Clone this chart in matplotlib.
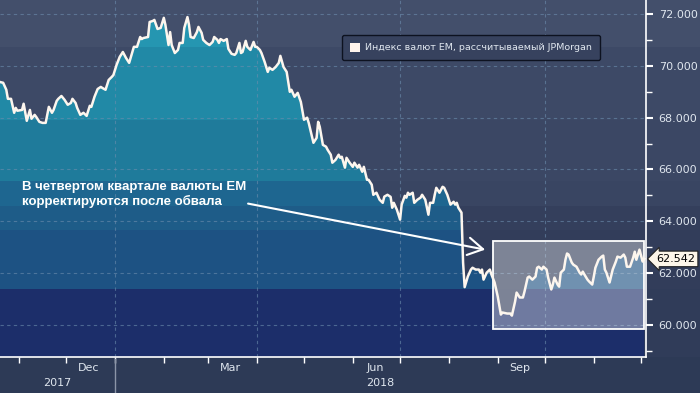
import datetime as dt

import matplotlib
matplotlib.use('Agg')
import matplotlib.pyplot as plt
import matplotlib.dates as mdates
import matplotlib.transforms as mtransforms
from matplotlib.patches import Polygon, Rectangle, Patch
from matplotlib.ticker import MultipleLocator, FuncFormatter

# --- data ------------------------------------------------------------------
START = dt.date(2017, 10, 20)

# days after START
day_offsets = [
    0, 2, 4, 5, 7, 9, 10, 11, 14, 15, 17, 19, 20, 22, 23, 25, 27, 29, 31, 33,
    34, 36, 37, 39, 41, 43, 45, 46, 48, 49, 51, 53, 55, 57, 58, 60, 62, 64, 65, 67,
    69, 71, 72, 74, 76, 78, 80, 82, 84, 85, 87, 89, 90, 91, 94, 95, 97, 98, 100, 102,
    104, 105, 107, 108, 109, 111, 113, 114, 116, 117, 119, 120, 121, 123, 125, 126, 128, 129, 131, 133,
    135, 136, 138, 139, 140, 142, 144, 145, 147, 149, 150, 152, 153, 154, 156, 157, 159, 161, 162, 163,
    165, 166, 168, 170, 171, 173, 175, 177, 178, 180, 182, 184, 185, 187, 189, 191, 193, 195, 196, 199,
    201, 202, 203, 205, 207, 208, 210, 211, 213, 215, 216, 217, 219, 220, 222, 224, 225, 227, 228, 230,
    231, 233, 234, 236, 237, 239, 241, 243, 244, 246, 248, 249, 250, 252, 254, 255, 257, 258, 259, 260,
    262, 263, 265, 267, 268, 270, 272, 273, 275, 276, 277, 279, 281, 282, 284, 285, 286, 288, 289, 290,
    291, 293, 294, 295, 297, 299, 300, 302, 304, 305, 306, 307, 309, 311, 312, 314, 316, 318, 319, 322,
    324, 325, 327, 328, 330, 332, 333, 335, 336, 338, 340, 341, 342, 344, 345, 347, 348, 350, 351, 352,
    354, 355, 356, 358, 359, 360, 361, 363, 364, 366, 368, 369, 370, 371, 373, 374, 376, 377, 378, 380,
    382, 383, 384, 385, 387, 389, 391, 392, 394, 396, 397, 398, 400, 402, 403, 404, 406, 408, 409,
]

index_values = [
    69.38, 69.35, 69.08, 68.73, 68.73, 68.19, 68.38, 68.27, 68.30, 68.54, 67.88, 68.30, 67.96, 68.11, 68.03, 67.84, 67.80, 67.80, 68.42, 68.19,
    68.30, 68.65, 68.73, 68.84, 68.69, 68.50, 68.57, 68.73, 68.57, 68.38, 68.11, 68.19, 68.07, 68.46, 68.42, 68.81, 69.11, 69.19, 69.15, 69.08,
    69.46, 69.58, 69.65, 70.04, 70.35, 70.54, 70.31, 70.12, 70.54, 70.74, 70.74, 71.12, 71.04, 71.08, 71.12, 71.70, 71.74, 71.78, 71.43, 71.47,
    71.86, 71.59, 70.81, 71.31, 70.81, 70.50, 70.62, 70.89, 70.89, 71.47, 71.89, 71.59, 71.12, 71.08, 71.31, 71.51, 71.28, 71.01, 70.89, 70.81,
    70.93, 71.12, 71.01, 70.89, 71.04, 70.97, 71.04, 70.66, 70.47, 70.43, 70.50, 70.89, 70.50, 70.54, 70.97, 70.74, 70.62, 70.93, 70.74, 70.74,
    70.62, 70.50, 70.16, 69.77, 69.93, 69.85, 69.96, 70.12, 70.39, 69.96, 69.77, 69.00, 69.08, 68.81, 68.96, 68.61, 67.92, 68.00, 67.80, 67.03,
    67.22, 67.84, 67.65, 66.95, 66.88, 66.76, 66.57, 66.26, 66.37, 66.57, 66.45, 66.49, 66.07, 66.45, 66.26, 66.10, 66.26, 66.07, 66.18, 65.91,
    66.10, 65.60, 65.60, 65.41, 65.02, 65.10, 64.83, 64.71, 64.95, 65.02, 64.94, 64.52, 64.71, 64.44, 64.06, 64.64, 64.98, 64.91, 65.10, 65.02,
    65.10, 64.71, 64.83, 64.91, 65.02, 64.83, 64.25, 64.71, 64.71, 65.02, 65.29, 65.10, 65.33, 65.29, 65.02, 64.83, 64.64, 64.75, 64.64, 64.71,
    64.52, 64.33, 62.40, 61.45, 61.86, 62.13, 62.20, 62.13, 62.13, 62.01, 62.13, 61.74, 62.01, 62.13, 61.94, 61.63, 61.09, 60.39, 60.47, 60.43,
    60.43, 60.35, 60.89, 61.24, 61.05, 61.05, 61.28, 61.82, 61.86, 61.74, 61.86, 62.20, 62.24, 62.13, 62.24, 62.13, 61.82, 61.36, 61.55, 61.82,
    61.55, 61.47, 62.01, 62.13, 62.51, 62.75, 62.71, 62.40, 62.32, 62.24, 62.01, 61.94, 62.05, 61.94, 61.74, 61.67, 61.55, 61.86, 62.20, 62.51,
    62.63, 62.67, 62.13, 62.01, 61.63, 62.13, 62.44, 62.63, 62.59, 62.71, 62.59, 62.24, 62.24, 62.59, 62.82, 62.51, 62.90, 62.44, 62.542,
]

last_value = 62.542
series_label = 'Индекс валют EM, рассчитываемый JPMorgan'
note_text = 'В четвертом квартале валюты EM\nкорректируются после обвала'
month_names = {12: 'Dec', 3: 'Mar', 6: 'Jun', 9: 'Sep'}
year_names = ['2017', '2018']
quarter_starts = [dt.date(2018, 1, 1), dt.date(2018, 4, 1),
                  dt.date(2018, 7, 1), dt.date(2018, 10, 1)]

# highlighted Q4 window
box_start, box_end = dt.date(2018, 8, 29), dt.date(2018, 12, 3)
box_low, box_high = 59.85, 63.25

# arrow from the note to the window (day offset, value)
arrow_from = (157.5, 64.68)
arrow_to = (308, 62.9)

# --- style ------------------------------------------------------------------
Y_MIN, Y_MAX = 58.75, 72.55
# band edges in axes fraction (top to bottom) and their colours
band_edges = [1.0, 0.868, 0.664, 0.494, 0.423, 0.356, 0.190, 0.0]
slate = ['#434f6b', '#3d4966', '#3b4764', '#394562', '#343f5c', '#323d5a', '#303c59']
teal = ['#2596b1', '#2189a6', '#1f7b9b', '#1e6690', '#1e5c88', '#1d5283', '#1c2e6a']
LABEL_C = '#dfe6ee'
GRID_C = '#6d8eae'

dates = [START + dt.timedelta(days=d) for d in day_offsets]
x = mdates.date2num(dates)

fig = plt.figure(figsize=(7, 3.93), dpi=100)
fig.patch.set_facecolor('#2d3a56')
ax = fig.add_axes([0, 0.0916, 0.923, 0.9084])
ax.set_facecolor('none')

# banded background over the whole width of the figure
band_tr = mtransforms.blended_transform_factory(fig.transFigure, ax.transAxes)
for top, bot, c in zip(band_edges[:-1], band_edges[1:], slate):
    fig.add_artist(Rectangle((0, bot), 1, top - bot, transform=band_tr,
                             facecolor=c, edgecolor='none', zorder=-10))

x_left = mdates.date2num(START)
x_right = x_left + 410.2
ax.set_xlim(x_left, x_right)
ax.set_ylim(Y_MIN, Y_MAX)

# area under the line, coloured in horizontal bands
area = Polygon([(x[0], Y_MIN)] + list(zip(x, index_values)) + [(x[-1], Y_MIN)],
               closed=True, facecolor='none', edgecolor='none')
ax.add_patch(area)
for top, bot, c in zip(band_edges[:-1], band_edges[1:], teal):
    r = Rectangle((0, bot), 1, top - bot, transform=ax.transAxes,
                  facecolor=c, edgecolor='none', zorder=1)
    ax.add_patch(r)
    r.set_clip_path(area)

# grid
for yv in range(60, 73, 2):
    ax.axhline(yv, color=GRID_C, lw=0.8, ls=(0, (3, 3)), alpha=0.6, zorder=2)
for q in quarter_starts:
    ax.axvline(mdates.date2num(q), color=GRID_C, lw=0.8, ls=(0, (3, 3)),
               alpha=0.6, zorder=2)

# highlight box
bx0, bx1 = mdates.date2num(box_start), mdates.date2num(box_end)
ax.add_patch(Rectangle((bx0, box_low), bx1 - bx0, box_high - box_low,
                       facecolor='white', alpha=0.37, edgecolor='none', zorder=3))
ax.add_patch(Rectangle((bx0, box_low), bx1 - bx0, box_high - box_low,
                       facecolor='none', edgecolor='white', lw=1.3, zorder=3))

ax.plot(x, index_values, color='#fdf6ee', lw=1.8, zorder=4,
        solid_joinstyle='round')

# note and arrow
ax.text(0.034, 0.494, note_text, transform=ax.transAxes, ha='left', va='top',
        color='white', fontsize=9.5, fontweight='bold',
        family=['Liberation Sans', 'DejaVu Sans'], linespacing=1.2, zorder=5)
ax.annotate('', xy=(x_left + arrow_to[0], arrow_to[1]),
            xytext=(x_left + arrow_from[0], arrow_from[1]),
            arrowprops=dict(arrowstyle='->,head_length=0.6,head_width=0.35',
                            color='white', lw=1.5, mutation_scale=18,
                            shrinkA=0, shrinkB=0), zorder=5)

# legend
handle = Patch(facecolor='#fff4ec', edgecolor='none', label=series_label)
leg = ax.legend(handles=[handle], loc='upper left',
                bbox_to_anchor=(342 / 700, 1 - 35 / 393),
                bbox_transform=fig.transFigure, borderaxespad=0,
                fontsize=6.8, frameon=True, fancybox=True,
                handlelength=1.15, handleheight=1.15, handletextpad=0.5,
                borderpad=0.8)
leg.get_frame().set_facecolor('#37425e')
leg.get_frame().set_edgecolor('#0d1220')
leg.get_frame().set_alpha(1)
for t in leg.get_texts():
    t.set_color(LABEL_C)

# spines
for s in ['top', 'left']:
    ax.spines[s].set_visible(False)
for s in ['right', 'bottom']:
    ax.spines[s].set_color('white')
    ax.spines[s].set_linewidth(1.2)
    ax.spines[s].set_zorder(6)

# y axis on the right
ax.yaxis.tick_right()
ax.yaxis.set_major_locator(MultipleLocator(2))
ax.yaxis.set_minor_locator(MultipleLocator(1))
ax.yaxis.set_major_formatter(FuncFormatter(lambda v, p: f'{v:.3f}'))
ax.tick_params(axis='y', which='major', length=5, width=1.5, color='white',
               labelcolor=LABEL_C, labelsize=8, pad=4)
ax.tick_params(axis='y', which='minor', length=4, width=1, color='white')

# x axis: ticks at month starts, labels mid-month
ax.xaxis.set_major_locator(mdates.MonthLocator())
ax.xaxis.set_major_formatter(FuncFormatter(lambda v, p: ''))
ax.xaxis.set_minor_locator(mdates.MonthLocator(bymonth=list(month_names), bymonthday=15))
ax.xaxis.set_minor_formatter(FuncFormatter(
    lambda v, p: month_names[mdates.num2date(v).month]))
ax.tick_params(axis='x', which='major', length=4, width=1, color='white')
ax.tick_params(axis='x', which='minor', length=0, labelcolor=LABEL_C,
               labelsize=8, pad=4)

# year row
year_tr = mtransforms.blended_transform_factory(ax.transData, ax.transAxes)
jan1 = mdates.date2num(quarter_starts[0])
ax.plot([jan1, jan1], [-0.005, -0.11], transform=year_tr, color='#8b95a8',
        lw=1, clip_on=False)
ax.text((x_left + jan1) / 2, -0.073, year_names[0], transform=year_tr,
        ha='center', va='center', color=LABEL_C, fontsize=8)
ax.text((jan1 + x_right) / 2, -0.073, year_names[1], transform=year_tr,
        ha='center', va='center', color=LABEL_C, fontsize=8)

# last value tag
tag_tr = mtransforms.blended_transform_factory(ax.transAxes, ax.transData)
ax.text(1.0155, last_value, f'{last_value:.3f}', transform=tag_tr,
        ha='left', va='center', color='black', fontsize=8, zorder=7,
        bbox=dict(boxstyle='larrow,pad=0.25', facecolor='#fdf6e9',
                  edgecolor='#222222', lw=0.8))

fig.savefig('out.png', dpi=100, facecolor=fig.get_facecolor())
